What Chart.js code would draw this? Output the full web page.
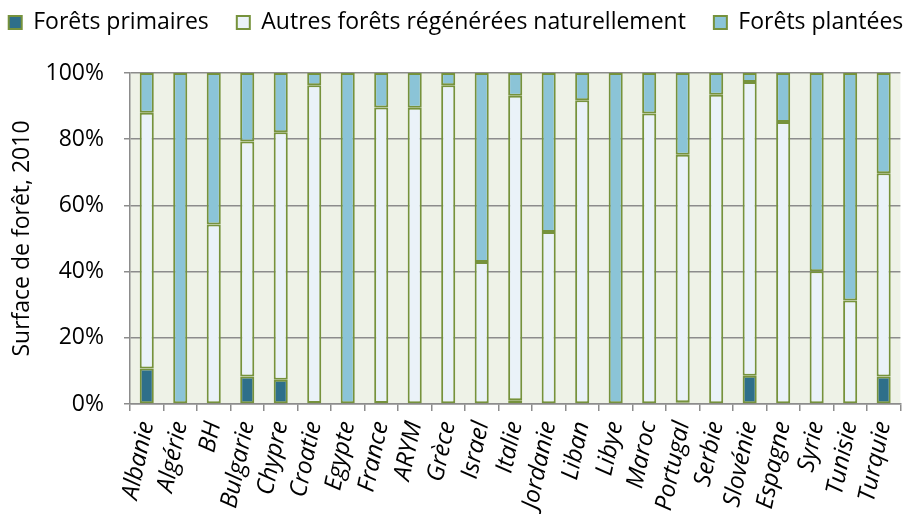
<!DOCTYPE html>
<html>
<head>
<meta charset="utf-8">
<script src="https://cdn.jsdelivr.net/npm/chart.js@4.4.1/dist/chart.umd.min.js"></script>
<style>
  html, body { margin: 0; padding: 0; background: #fff; overflow: hidden; }
  #wrap { position: absolute; left: 0; top: 0; width: 920px; height: 514px; }
</style>
</head>
<body>
<div id="wrap"><canvas id="c" width="920" height="514"></canvas></div>
<script>
// Part de chaque type de forêt dans la surface forestière, 2010 (%)
const pays = ['Albanie', 'Algérie', 'BH', 'Bulgarie', 'Chypre', 'Croatie', 'Egypte', 'France',
  'ARYM', 'Grèce', 'Israel', 'Italie', 'Jordanie', 'Liban', 'Libye', 'Maroc', 'Portugal',
  'Serbie', 'Slovénie', 'Espagne', 'Syrie', 'Tunisie', 'Turquie'];
const foretsPrimaires = [10.7, 0, 0, 8.3, 7.3, 0.3, 0, 0.3, 0, 0, 0, 1.1, 0, 0, 0, 0, 0.5,
  0, 8.5, 0, 0, 0, 8.3];
const autresForets = [77.3, 0, 54.2, 71.0, 74.8, 96.0, 0, 89.3, 89.5, 96.3, 42.9, 92.0, 52.0,
  91.8, 0, 87.8, 74.8, 93.4, 88.8, 85.2, 40.1, 31.3, 61.4];
const foretsPlantees = [12.0, 100, 45.8, 20.7, 17.9, 3.7, 100, 10.4, 10.5, 3.7, 57.1, 6.9, 48.0,
  8.2, 100, 12.2, 24.7, 6.6, 2.7, 14.8, 59.9, 68.7, 30.3];
const graduations = [0, 20, 40, 60, 80, 100];

const FONT = '"Open Sans", Lato, sans-serif';
const BORD = '#76923c';

// fond de la zone de tracé
const fondZone = {
  id: 'fondZone',
  beforeDraw(chart) {
    const { ctx, chartArea: a } = chart;
    ctx.save();
    ctx.fillStyle = '#eef2e7';
    ctx.fillRect(a.left, a.top, a.right - a.left, a.bottom - a.top);
    ctx.restore();
  }
};

// légende sur une seule ligne, hauteur fixe au-dessus du graphique
const legendeUneLigne = {
  id: 'legendeUneLigne',
  afterInit(chart) {
    const lg = chart.legend;
    if (!lg) return;
    const fit = lg.fit.bind(lg);
    lg.fit = function () {
      const mw = this.maxWidth;
      this.maxWidth = mw + 200;
      fit();
      this.maxWidth = mw;
      this.width = Math.min(this.width, mw);
      this.height = 90;
    };
  },
  afterLayout(chart) {
    const lg = chart.legend;
    if (!lg) return;
    lg.left -= 100;
    lg.right += 100;
  }
};

const serie = (label, data, color) => ({
  label, data,
  backgroundColor: color,
  borderColor: BORD,
  borderWidth: 2,
  borderSkipped: false,
  barPercentage: 0.42,
  categoryPercentage: 1.0
});

new Chart(document.getElementById('c'), {
  type: 'bar',
  data: {
    labels: pays,
    datasets: [
      serie('Forêts primaires', foretsPrimaires, '#2e6f8a'),
      serie('Autres forêts régénérées naturellement', autresForets, '#eaf2f8'),
      serie('Forêts plantées', foretsPlantees, '#8bc4d7')
    ]
  },
  options: {
    responsive: false,
    animation: false,
    layout: { padding: { left: 0, right: 8, top: -17, bottom: 0 } },
    plugins: {
      tooltip: { enabled: false },
      legend: {
        position: 'top',
        align: 'center',
        labels: {
          color: '#000',
          boxWidth: 13,
          boxHeight: 13,
          padding: 28,
          font: { family: FONT, size: 23 }
        }
      }
    },
    scales: {
      x: {
        stacked: true,
        grid: {
          offset: true,
          drawOnChartArea: false,
          drawTicks: true,
          tickLength: 7,
          color: '#8c8c8c',
          lineWidth: 1.5
        },
        border: { color: '#8c8c8c', width: 1.5 },
        ticks: {
          color: '#000',
          minRotation: 78,
          maxRotation: 78,
          autoSkip: false,
          padding: 8,
          font: { family: FONT, size: 24, style: 'italic' }
        },
        afterFit(scale) { scale.height = 110; }
      },
      y: {
        stacked: true,
        min: 0,
        max: 100,
        afterBuildTicks(scale) { scale.ticks = graduations.map(v => ({ value: v })); },
        grid: {
          color: '#8c8c8c',
          lineWidth: 1.5,
          tickLength: 6
        },
        border: { color: '#8c8c8c', width: 1.5 },
        ticks: {
          color: '#000',
          padding: 20,
          font: { family: FONT, size: 23 },
          callback: v => v + '%'
        },
        title: {
          display: true,
          text: 'Surface de forêt, 2010',
          color: '#000',
          padding: { top: 9, bottom: 0 },
          font: { family: FONT, size: 23 }
        },
        afterFit(scale) { scale.width = 130; }
      }
    }
  },
  plugins: [fondZone, legendeUneLigne]
});
</script>
</body>
</html>
